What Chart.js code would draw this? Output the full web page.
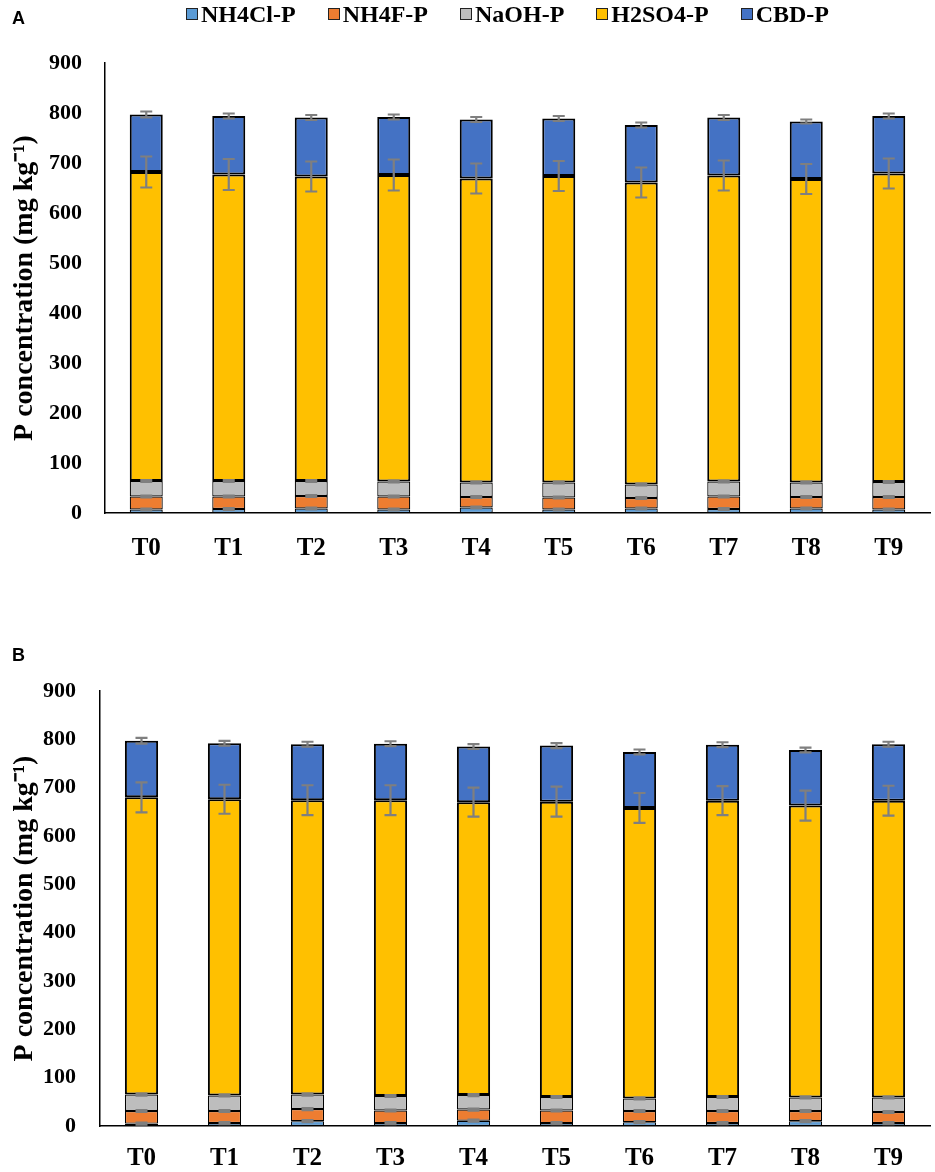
<!DOCTYPE html>
<html>
<head>
<meta charset="utf-8">
<script src="https://cdn.jsdelivr.net/npm/chart.js@4.4.1/dist/chart.umd.min.js"></script>
<style>
  body { margin: 0; background: #fff; }
  #wrap { position: relative; width: 935px; height: 1172px; overflow: hidden; }
  canvas { position: absolute; left: 0; }
  #chartA { top: 0; }
  #chartB { top: 590px; }
  .panel { position: absolute; font-family: "Liberation Sans", Arial, sans-serif; font-weight: bold; font-size: 18px; line-height: 20px; }
  #legend { position: absolute; top: 2px; left: 186px; display: flex; gap: 32px; line-height: 24px;
    font-family: "Liberation Serif", "Times New Roman", serif; font-weight: bold; font-size: 24px; }
  #legend span.item { display: flex; align-items: center; }
  #legend i { display: inline-block; width: 10px; height: 10px; border: 1.5px solid #222; margin-right: 3px; }
</style>
</head>
<body>
<div id="wrap">
  <canvas id="chartA" width="935" height="590"></canvas>
  <canvas id="chartB" width="935" height="582"></canvas>
  <div class="panel" style="left:12px; top:8px;">A</div>
  <div class="panel" style="left:12px; top:645px;">B</div>
  <div id="legend"></div>
</div>
<script>
const categories = ["T0", "T1", "T2", "T3", "T4", "T5", "T6", "T7", "T8", "T9"];
const seriesNames = ["NH4Cl-P", "NH4F-P", "NaOH-P", "H2SO4-P", "CBD-P"];
const seriesColors = ["#5B9BD5", "#ED7D31", "#BDBDBD", "#FFC000", "#4472C4"];
const yTicks = [0, 100, 200, 300, 400, 500, 600, 700, 800, 900];

// panel A
const aNH4Cl = [7, 8, 9, 7, 11, 7, 9, 8, 9, 7];
const aNH4F = [26, 25, 25, 26, 21, 24, 21, 25, 23, 25];
const aNaOH = [31, 31, 30, 30, 29, 30, 27, 30, 29, 30];
const aH2SO4 = [618, 613, 609, 613, 608, 613, 604, 612, 607, 617];
const aCBD = [115, 117, 118, 116, 118, 115, 115, 116, 115, 115];
const aErrSmall = [2, 2, 2, 2, 2, 2, 2, 2, 2, 2];
const aErrH2SO4 = [31, 31, 30, 31, 30, 30, 30, 30, 30, 30];
const aErrCBD = [6, 5, 5, 5, 5, 5, 5, 5, 4, 5];

// panel B
const bNH4Cl = [5, 6, 10, 6, 11, 6, 8, 6, 10, 6];
const bNH4F = [26, 25, 25, 26, 23, 26, 23, 25, 21, 23];
const bNaOH = [34, 32, 30, 30, 30, 28, 26, 29, 28, 30];
const bH2SO4 = [615, 613, 609, 612, 606, 611, 601, 613, 604, 614];
const bCBD = [117, 116, 116, 117, 115, 116, 116, 116, 115, 117];
const bErrSmall = [2, 2, 2, 2, 2, 2, 2, 2, 2, 2];
const bErrH2SO4 = [31, 30, 31, 31, 30, 31, 31, 30, 31, 31];
const bErrCBD = [6, 5, 5, 5, 5, 5, 5, 5, 5, 5];

// html legend
const legend = document.getElementById("legend");
seriesNames.forEach((name, i) => {
  legend.innerHTML += `<span class="item"><i style="background:${seriesColors[i]}"></i>${name}</span>`;
});

// error bars at the top of each stacked segment
const errorBars = {
  id: "errorBars",
  afterDatasetsDraw(chart) {
    const ctx = chart.ctx;
    const y = chart.scales.y;
    ctx.save();
    ctx.strokeStyle = "#7F7F7F";
    ctx.lineWidth = 2.2;
    chart.data.datasets.forEach((ds, i) => {
      const meta = chart.getDatasetMeta(i);
      meta.data.forEach((bar, j) => {
        let top = 0;
        for (let k = 0; k <= i; k++) top += chart.data.datasets[k].data[j];
        const e = ds.errors[j];
        const y1 = y.getPixelForValue(top + e);
        const y2 = y.getPixelForValue(top - e);
        const cap = 6;
        ctx.beginPath();
        ctx.moveTo(bar.x, y1); ctx.lineTo(bar.x, y2);
        ctx.moveTo(bar.x - cap, y1); ctx.lineTo(bar.x + cap, y1);
        ctx.moveTo(bar.x - cap, y2); ctx.lineTo(bar.x + cap, y2);
        ctx.stroke();
      });
    });
    ctx.restore();
  }
};

function makeDatasets(values, errors) {
  return values.map((v, i) => ({
    label: seriesNames[i],
    data: v,
    errors: errors[i],
    backgroundColor: seriesColors[i],
    borderColor: "#000",
    borderWidth: i < 3 ? 1.2 : 2,
    borderSkipped: false,
    categoryPercentage: 1,
    barPercentage: 0.4
  }));
}

const serif = "'Liberation Serif', 'Times New Roman', serif";

function makeChart(el, datasets, o) {
  return new Chart(document.getElementById(el), {
    type: "bar",
    data: { labels: categories, datasets: datasets },
    options: {
      responsive: false,
      animation: false,
      layout: { padding: { top: o.top, right: 5, left: 0, bottom: 0 } },
      plugins: { legend: { display: false }, tooltip: { enabled: false } },
      scales: {
        x: {
          stacked: true,
          grid: { display: false, drawTicks: false },
          border: { color: "#000", width: 1.5 },
          ticks: { color: "#000", padding: o.xPad, font: { family: serif, weight: "bold", size: 25 } },
          afterFit: s => { s.height = o.xH; }
        },
        y: {
          stacked: true,
          min: 0,
          max: 900,
          grid: { display: false, drawTicks: false },
          border: { color: "#000", width: 1.5 },
          afterBuildTicks: s => { s.ticks = yTicks.map(v => ({ value: v })); },
          ticks: { color: "#000", padding: o.yPad, font: { family: serif, weight: "bold", size: 22 } },
          title: {
            display: true,
            text: "P concentration (mg kg\u207B\u00B9)",
            color: "#000",
            padding: { top: 8, bottom: 0 },
            font: { family: serif, weight: "bold", size: 28 }
          },
          afterFit: s => { s.width = o.yW; }
        }
      }
    },
    plugins: [errorBars]
  });
}

makeChart("chartA",
  makeDatasets([aNH4Cl, aNH4F, aNaOH, aH2SO4, aCBD], [aErrSmall, aErrSmall, aErrSmall, aErrH2SO4, aErrCBD]),
  { top: 63, xH: 77, xPad: 21, yPad: 23, yW: 105 });

makeChart("chartB",
  makeDatasets([bNH4Cl, bNH4F, bNaOH, bH2SO4, bCBD], [bErrSmall, bErrSmall, bErrSmall, bErrH2SO4, bErrCBD]),
  { top: 101, xH: 46, xPad: 18, yPad: 24, yW: 100 });
</script>
</body>
</html>
